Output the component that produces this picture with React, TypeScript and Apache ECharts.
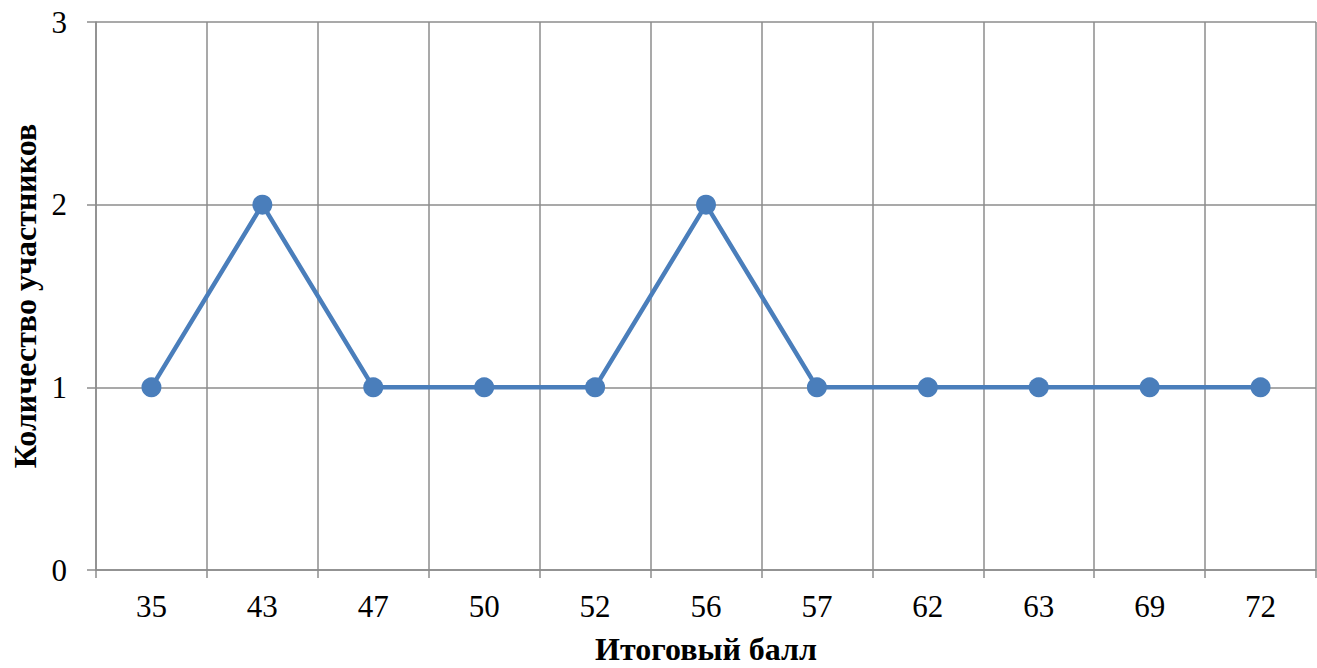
import React, { useEffect, useRef } from "react";
import * as echarts from "echarts";

const categories = ["35", "43", "47", "50", "52", "56", "57", "62", "63", "69", "72"];
const counts = [1, 2, 1, 1, 1, 2, 1, 1, 1, 1, 1];
const xName = "Итоговый балл";
const yName = "Количество участников";

const FONT = "Liberation Serif";
const GRID = "#8c8c8c";

export default function App() {
  const ref = useRef<HTMLDivElement>(null);
  useEffect(() => {
    if (!ref.current) return;
    const chart = echarts.init(ref.current, undefined, { renderer: "svg" });
    chart.setOption({
      animation: false,
      backgroundColor: "#ffffff",
      grid: { left: 96, right: 1, top: 22, bottom: 98, containLabel: false, outerBoundsMode: "none" },
      xAxis: {
        type: "category",
        data: categories,
        boundaryGap: true,
        name: xName,
        nameLocation: "middle",
        nameGap: 65,
        nameTextStyle: { fontFamily: FONT, fontSize: 32, fontWeight: "bold", color: "#000", lineHeight: 28 },
        axisLine: { show: true, lineStyle: { color: GRID, width: 1.5 } },
        axisTick: { show: true, length: 8, alignWithLabel: false, lineStyle: { color: GRID, width: 1.5 } },
        axisLabel: { fontFamily: FONT, fontSize: 31, color: "#000", margin: 21 },
        splitLine: { show: true, lineStyle: { color: GRID, width: 1.5 } },
      },
      yAxis: {
        type: "value",
        min: 0,
        max: 3,
        interval: 1,
        name: yName,
        nameLocation: "middle",
        nameGap: 52,
        nameTextStyle: { fontFamily: FONT, fontSize: 32, fontWeight: "bold", color: "#000" },
        axisLine: { show: true, lineStyle: { color: GRID, width: 1.5 } },
        axisTick: { show: true, length: 9, lineStyle: { color: GRID, width: 1.5 } },
        axisLabel: { fontFamily: FONT, fontSize: 31, color: "#000", margin: 29 },
        splitLine: { show: true, lineStyle: { color: GRID, width: 1.5 } },
      },
      series: [
        {
          type: "line",
          data: counts,
          symbol: "circle",
          symbolSize: 20,
          lineStyle: { color: "#4a7ebb", width: 4.5 },
          itemStyle: { color: "#4a7ebb" },
        },
      ],
    });
    return () => chart.dispose();
  }, []);
  return <div ref={ref} style={{ width: 1317, height: 668, position: "absolute", left: 0, top: 0 }} />;
}
